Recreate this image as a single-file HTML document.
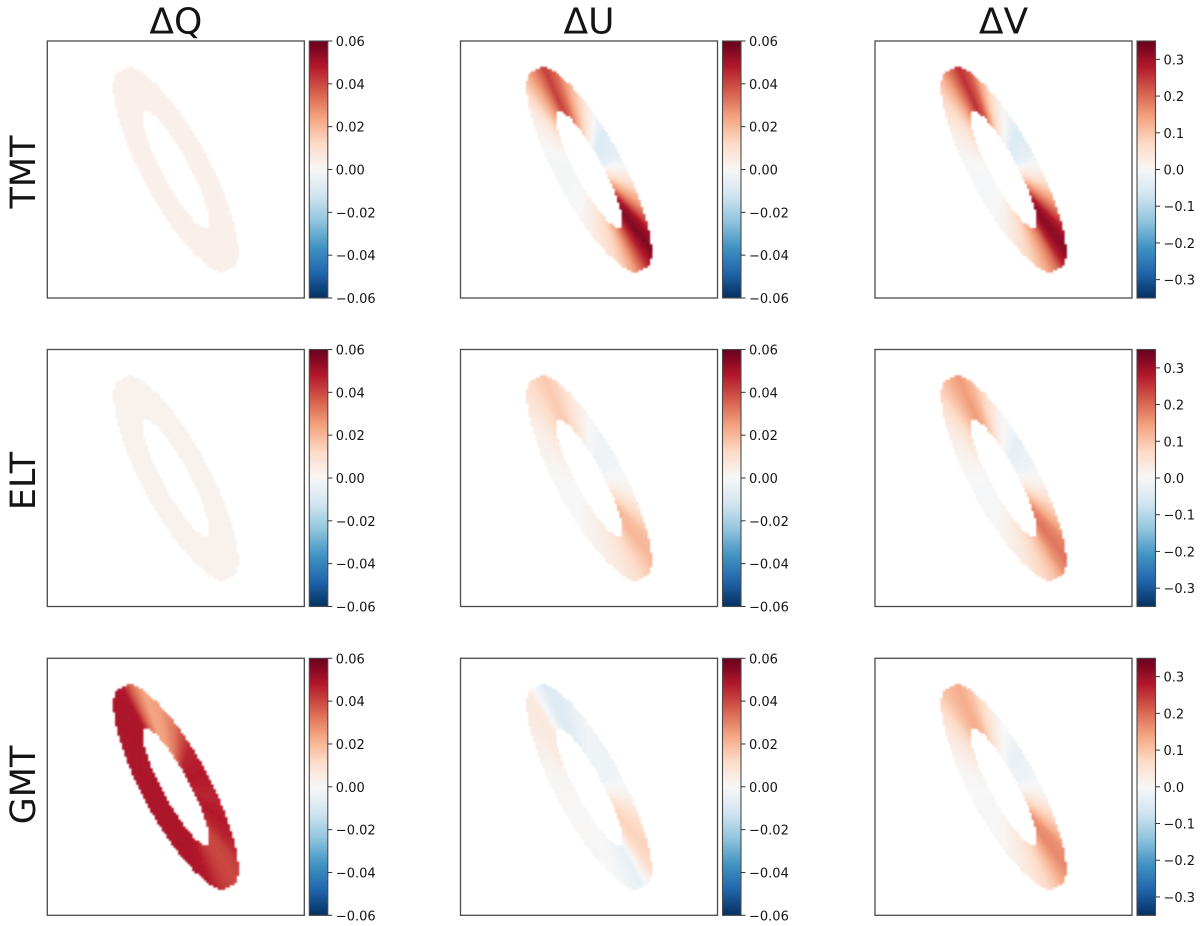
<!DOCTYPE html>
<html>
<head>
<meta charset="utf-8">
<title>Delta Q U V residual maps</title>
<style>
html,body{margin:0;padding:0;background:#fff;width:1200px;height:926px;overflow:hidden}
svg{display:block}
text{font-family:"DejaVu Sans","Liberation Sans",sans-serif;fill:#141414}
</style>
</head>
<body>
<svg id="figure" width="1200" height="926" viewBox="0 0 1200 926" xmlns="http://www.w3.org/2000/svg">
<defs><filter id="soft" x="-5%" y="-5%" width="110%" height="110%"><feGaussianBlur stdDeviation="0.7"/></filter></defs>
</svg>
<script>
// Azimuth samples around the ring, one value every 15 degrees.
const rowNames = ['TMT', 'ELT', 'GMT'];
const columnTitles = ['\u0394Q', '\u0394U', '\u0394V'];
const columnLimits = [0.06, 0.06, 0.35];
const smallTicks = [0.06, 0.04, 0.02, 0, -0.02, -0.04, -0.06];
const smallTickLabels = ['0.06', '0.04', '0.02', '0.00', '\u22120.02', '\u22120.04', '\u22120.06'];
const largeTicks = [0.3, 0.2, 0.1, 0, -0.1, -0.2, -0.3];
const largeTickLabels = ['0.3', '0.2', '0.1', '0.0', '\u22120.1', '\u22120.2', '\u22120.3'];

const tmtDQ = [.003,.003,.003,.003,.003,.003,.003,.003,.003,.003,.003,.003,.003,.003,.003,.003,.003,.003,.003,.003,.003,.003,.003,.003];
const tmtDU = [.036,.048,.057,.05,.027,.008,-.006,-.008,.006,.02,.034,.042,.032,.023,.014,.006,.002,-.001,-.001,-.0005,.004,.009,.014,.024];
const tmtDV = [.19,.28,.32,.29,.17,.05,-.03,-.05,.01,.09,.21,.26,.2,.14,.09,.05,.025,.004,-.005,-.004,.018,.05,.09,.14];
const eltDQ = [.0022,.0022,.0022,.0022,.0022,.0022,.0022,.0022,.0022,.0022,.0022,.0022,.0022,.0022,.0022,.0022,.0022,.0022,.0022,.0022,.0022,.0022,.0022,.0022];
const eltDU = [.012,.016,.02,.019,.011,.002,-.002,-.003,.001,.007,.013,.016,.014,.011,.008,.005,.003,.001,0,0,.002,.004,.006,.009];
const eltDV = [.11,.16,.19,.17,.1,.025,-.02,-.03,.005,.06,.12,.15,.13,.1,.07,.04,.02,.003,-.003,-.002,.012,.03,.055,.08];
const gmtDQ = [.041,.04,.041,.046,.048,.046,.048,.046,.032,.025,.024,.034,.048,.049,.049,.049,.049,.049,.049,.049,.049,.049,.048,.044];
const gmtDU = [-.005,.003,.012,.014,.011,.003,-.003,-.003,-.002,-.005,-.008,-.008,-.002,.006,.006,.005,.003,.001,.0005,.0003,.0005,0,-.001,-.003];
const gmtDV = [.1,.14,.17,.16,.09,.02,-.018,-.025,.004,.05,.1,.13,.12,.1,.07,.04,.02,.003,-.002,-.002,.008,.025,.045,.07];
const panelValues = [[tmtDQ, tmtDU, tmtDV], [eltDQ, eltDU, eltDV], [gmtDQ, gmtDU, gmtDV]];

const colormapStops = ['#053061','#2166ac','#4393c3','#92c5de','#d1e5f0','#f7f7f7','#fddbc7','#f4a582','#d6604d','#b2182b','#67001f'];

const NS = 'http://www.w3.org/2000/svg';
const figure = document.getElementById('figure');
const colLeft = [47.3, 460.5, 875];
const rowTop = [41, 349.5, 658.3];
const rowLabelCenter = [172, 481, 785];
const axSize = 257;
const barGap = 5;
const barWidth = 18.5;
const gridSize = 110;
const cellSize = axSize / gridSize;
const dirU = [0.473, 0.881];
const dirV = [0.881, -0.473];
const outerA = 116, outerB = 33.4, clipU = 112.5;
const innerA = 66.5, innerB = 13.7;

function make(tag, attrs, parent) {
  const el = document.createElementNS(NS, tag);
  for (const k in attrs) el.setAttribute(k, attrs[k]);
  parent.appendChild(el);
  return el;
}
function hexRgb(h) { return [1, 3, 5].map(i => parseInt(h.substr(i, 2), 16)); }
function colormap(f) {
  f = Math.max(0, Math.min(1, f));
  const p = f * (colormapStops.length - 1);
  const i = Math.min(colormapStops.length - 2, Math.floor(p));
  const a = hexRgb(colormapStops[i]), b = hexRgb(colormapStops[i + 1]);
  const w = p - i;
  return 'rgb(' + a.map((c, k) => Math.round(c + (b[k] - c) * w)).join(',') + ')';
}
function colorScale(v, limit) { return colormap((v + limit) / (2 * limit)); }
function cellX(panelX, col) { return panelX + col * cellSize; }
function cellY(panelY, row) { return panelY + row * cellSize; }
function ringValue(series, u, v) {
  let t = Math.atan2(v / outerB, u / outerA) * 180 / Math.PI;
  if (t < 0) t += 360;
  const step = 360 / series.length;
  const p = t / step;
  const i = Math.floor(p) % series.length;
  const j = (i + 1) % series.length;
  const w = p - Math.floor(p);
  return series[i] + (series[j] - series[i]) * w;
}
function inRing(u, v) {
  if (Math.abs(u) > clipU) return false;
  if ((u / outerA) ** 2 + (v / outerB) ** 2 > 1) return false;
  if ((u / innerA) ** 2 + (v / innerB) ** 2 < 1) return false;
  return true;
}

columnTitles.forEach((title, c) => {
  const t = make('text', { x: colLeft[c] + axSize / 2, y: 33.5, 'text-anchor': 'middle', 'font-size': 36 }, figure);
  
  
  t.textContent = title;
});

rowNames.forEach((name, r) => {
  const cy = rowLabelCenter[r];
  const t = make('text', { x: 35, y: cy, 'text-anchor': 'middle', 'font-size': 35, transform: 'rotate(-90 35 ' + cy + ')' }, figure);
  
  
  t.textContent = name;

  columnTitles.forEach((_, c) => {
    const px = colLeft[c], py = rowTop[r];
    const limit = columnLimits[c];
    const series = panelValues[r][c];

    const group = make('g', {}, figure);
    
    

    const cells = make('g', { filter: 'url(#soft)' }, group);
    
    
    const cx = gridSize / 2, cyy = gridSize / 2;
    for (let row = 0; row < gridSize; row++) {
      for (let col = 0; col < gridSize; col++) {
        const dx = (col + 0.5 - cx) * cellSize;
        const dy = (row + 0.5 - cyy) * cellSize;
        const u = dx * dirU[0] + dy * dirU[1];
        const v = dx * dirV[0] + dy * dirV[1];
        if (!inRing(u, v)) continue;
        const cell = make('rect', {
          x: cellX(px, col).toFixed(2), y: cellY(py, row).toFixed(2),
          width: (cellSize + 0.35).toFixed(2), height: (cellSize + 0.35).toFixed(2),
          fill: colorScale(ringValue(series, u, v), limit)
        }, cells);
        
        
      }
    }

    const frame = make('rect', { x: px, y: py, width: axSize, height: axSize, fill: 'none', stroke: '#4a4a4a', 'stroke-width': 1.3 }, group);
    
    

    const barX = px + axSize + barGap;
    const bar = make('g', {}, group);
    
    
    const steps = 128;
    for (let i = 0; i < steps; i++) {
      const sw = make('rect', {
        x: barX, y: (py + axSize * i / steps).toFixed(2), width: barWidth,
        height: (axSize / steps + 0.5).toFixed(2),
        fill: colormap(1 - (i + 0.5) / steps)
      }, bar);
      
      
    }
    const barFrame = make('rect', { x: barX, y: py, width: barWidth, height: axSize, fill: 'none', stroke: '#4a4a4a', 'stroke-width': 1.1 }, bar);
    
    

    const ticks = limit > 0.1 ? largeTicks : smallTicks;
    const labels = limit > 0.1 ? largeTickLabels : smallTickLabels;
    ticks.forEach((tv, i) => {
      const y = py + axSize * (1 - (tv + limit) / (2 * limit));
      const tick = make('line', { x1: barX + barWidth, x2: barX + barWidth + 4.5, y1: y, y2: y, stroke: '#333', 'stroke-width': 1 }, bar);
      
      
      const lab = make('text', { x: barX + barWidth + 8, y: y + 5, 'font-size': 13 }, bar);
      
      
      lab.textContent = labels[i];
    });
  });
});
</script>
</body>
</html>
